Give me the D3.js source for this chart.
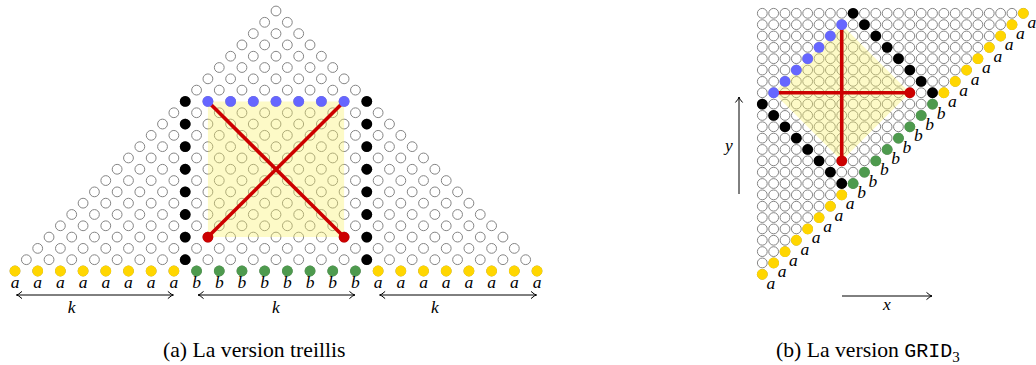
<!DOCTYPE html>
<html><head><meta charset="utf-8">
<script src="https://cdn.jsdelivr.net/npm/d3@7"></script>
<style>body{margin:0;background:#fff;} svg{display:block}
.it{font-family:"Liberation Serif","DejaVu Serif",serif;font-style:italic;font-size:17.5px;}
.cap{font-family:"Liberation Serif","DejaVu Serif",serif;font-size:21.7px;}
.mono{font-family:"Liberation Mono","DejaVu Sans Mono",monospace;font-size:20px;}
</style>
</head><body><svg id="c" width="1036" height="365"></svg>
<script>
// Lattice: row rho (0 = bottom row of panel a), position j in 0..(ROWS-1-rho)
const ROWS = 24;
const bottomLabels = ['a','a','a','a','a','a','a','a','b','b','b','b','b','b','b','b','a','a','a','a','a','a','a','a'];
const blackPoints = [[1,7],[3,6],[5,5],[7,4],[9,3],[11,2],[13,1],[15,0],
                     [1,15],[3,14],[5,13],[7,12],[9,11],[11,10],[13,9],[15,8]];
const bluePoints = [[15,1],[15,2],[15,3],[15,4],[15,5],[15,6],[15,7]];
const redPoints = [[3,7],[3,13]];
const redLines = [[[15,1],[3,13]], [[15,7],[3,7]]];
const yellowRegion = [[15,1],[15,7],[3,13],[3,7]];
const spanRanges = [[0,7],[8,15],[16,23]];
const spanLabels = ['k','k','k'];
const spanLabelAt = [2.5, 11.5, 18.5];
const axisLabels = ['x','y'];
const captionA = '(a) La version treillis';
const captionB = ['(b) La version ', 'GRID', '3'];

const colors = {a:'#ffd600', b:'#4e9a4e', black:'#000', blue:'#6666ff', red:'#cc0000',
                open:'#858585', area:'rgb(250,240,100)'};

const svg = d3.select('#c');

const xA = d3.scaleLinear().domain([0, ROWS-1]).range([15, 537]);
const yA = d3.scaleLinear().domain([0, ROWS-1]).range([271, 11]);
const xB = d3.scaleLinear().domain([0, ROWS-1]).range([762.3, 1023.3]);
const yB = d3.scaleLinear().domain([0, ROWS-1]).range([13.3, 274.3]);

const posA = ([r, j]) => [xA(j + r/2), yA(r)];
const posB = ([r, j]) => [xB(j), yB(ROWS-1-r-j)];

const grid = [];
d3.range(ROWS).forEach(r => d3.range(ROWS - r).forEach(j => grid.push([r, j])));
const bottom = bottomLabels.map((l, j) => ({p:[0, j], l}));

function drawPanel(g, pos, labOff) {
  g.append('g').selectAll('circle').data(grid).join('circle')
    .attr('cx', d => pos(d)[0]).attr('cy', d => pos(d)[1]).attr('r', 4.9)
    .attr('fill', 'none').attr('stroke', colors.open).attr('stroke-width', 1);
  g.append('path').attr('d', d3.line()(yellowRegion.map(pos)) + 'Z')
    .attr('fill', colors.area).attr('fill-opacity', 0.36);
  g.append('g').selectAll('line').data(redLines).join('line')
    .attr('x1', d => pos(d[0])[0]).attr('y1', d => pos(d[0])[1])
    .attr('x2', d => pos(d[1])[0]).attr('y2', d => pos(d[1])[1])
    .attr('stroke', colors.red).attr('stroke-width', 3.6);
  const dots = (data, col) => g.append('g').selectAll('circle').data(data).join('circle')
    .attr('cx', d => pos(d)[0]).attr('cy', d => pos(d)[1]).attr('r', 5.4).attr('fill', col);
  dots(blackPoints, colors.black);
  dots(bluePoints, colors.blue);
  dots(redPoints, colors.red);
  g.append('g').selectAll('circle').data(bottom).join('circle')
    .attr('cx', d => pos(d.p)[0]).attr('cy', d => pos(d.p)[1]).attr('r', 5.4)
    .attr('fill', d => colors[d.l]);
  g.append('g').selectAll('text').data(bottom).join('text')
    .attr('class', 'it')
    .attr('x', d => pos(d.p)[0] + labOff[0]).attr('y', d => pos(d.p)[1] + labOff[1])
    .attr('text-anchor', 'middle')
    .text(d => d.l);
}

drawPanel(svg.append('g'), posA, [0, 16.5]);
drawPanel(svg.append('g'), posB, [8.5, 14.5]);

// arrows
function head(x, y, ang) {
  const L = 5.5, W = 3.6;
  const ca = Math.cos(ang), sa = Math.sin(ang);
  const p1 = [x - L*ca + W*sa, y - L*sa - W*ca];
  const p2 = [x - L*ca - W*sa, y - L*sa + W*ca];
  return `M${p1[0]},${p1[1]} Q${x - 1.5*ca},${y - 1.5*sa} ${x},${y} Q${x - 1.5*ca},${y - 1.5*sa} ${p2[0]},${p2[1]}`;
}
const ag = svg.append('g').attr('fill', 'none').attr('stroke', '#000').attr('stroke-width', 1);
const arrowY = 295;
spanRanges.forEach(([s, e], i) => {
  const x1 = xA(s) + 1.5, x2 = xA(e) - 0.5;
  ag.append('line').attr('x1', x1).attr('x2', x2).attr('y1', arrowY).attr('y2', arrowY);
  ag.append('path').attr('d', head(x1, arrowY, Math.PI));
  ag.append('path').attr('d', head(x2, arrowY, 0));
  svg.append('text').attr('class', 'it').attr('x', xA(spanLabelAt[i])).attr('y', 312.5)
    .attr('text-anchor', 'middle').text(spanLabels[i]);
});

// panel b axis arrows
const vx = 739, vTop = 97, vBot = 194;
ag.append('line').attr('x1', vx).attr('x2', vx).attr('y1', vBot).attr('y2', vTop);
ag.append('path').attr('d', head(vx, vTop, -Math.PI/2));
const hy = 296, hL = 842, hR = 932;
ag.append('line').attr('x1', hL).attr('x2', hR).attr('y1', hy).attr('y2', hy);
ag.append('path').attr('d', head(hR, hy, 0));
svg.append('text').attr('class', 'it').attr('x', (hL + hR)/2).attr('y', 309.5)
  .attr('text-anchor', 'middle').text(axisLabels[0]);
svg.append('text').attr('class', 'it').attr('x', vx - 10).attr('y', 151)
  .attr('text-anchor', 'middle').text(axisLabels[1]);

// captions
svg.append('text').attr('class', 'cap').attr('x', 163).attr('y', 357).text(captionA);
const cb = svg.append('text').attr('class', 'cap').attr('x', 776).attr('y', 357);
cb.append('tspan').text(captionB[0]);
cb.append('tspan').attr('class', 'mono').text(captionB[1]);
cb.append('tspan').attr('dy', 5).style('font-size', '15px').text(captionB[2]);
</script></body></html>
